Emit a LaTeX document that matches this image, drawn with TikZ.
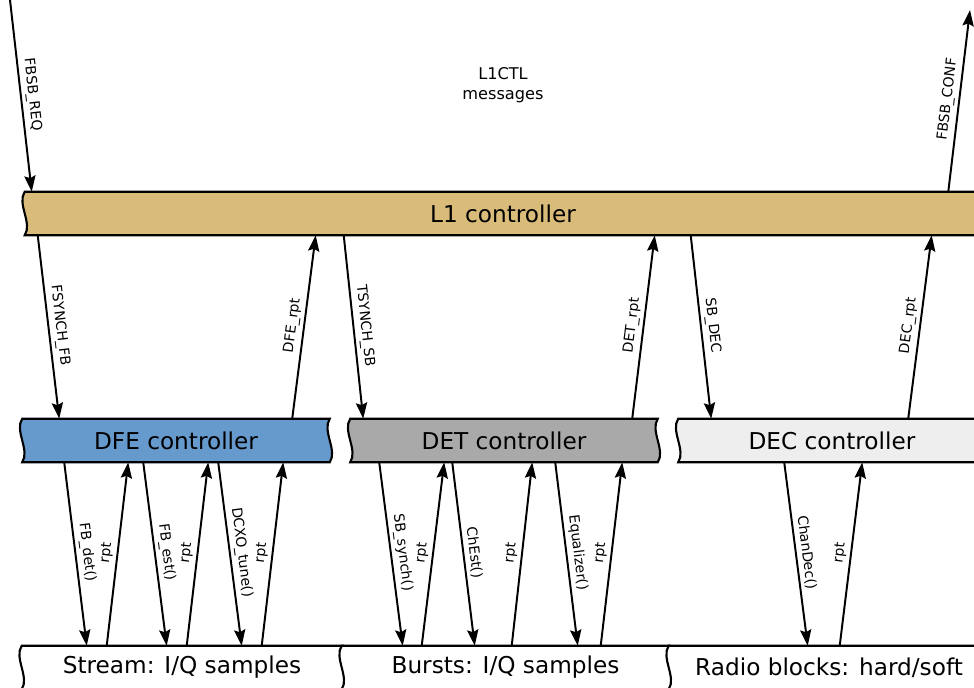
\documentclass[tikz,border=0pt]{standalone}
\usepackage{fontspec}
\setmainfont{DejaVu Sans}
\usepackage{tikz}
\usetikzlibrary{arrows.meta,positioning,backgrounds,calc}
\definecolor{ctlsand}{RGB}{217,187,122}
\definecolor{dfeblue}{RGB}{102,153,204}
\definecolor{detgrey}{RGB}{169,169,169}
\definecolor{decgrey}{RGB}{238,238,238}

\newcommand{\tornbox}[2]{%
\begin{scope}[on background layer]
\filldraw[fill=#2, draw=black, line width=1.5pt]
(#1.north west) .. controls +(-0.2,-0.3) and +(0.2,0.3) .. (#1.south west)
-- (#1.south east) .. controls +(0.2,0.3) and +(-0.2,-0.3) .. (#1.north east) -- cycle;
\end{scope}}

\begin{document}
\begin{tikzpicture}[
box/.style={rectangle, inner sep=0pt, minimum height=1.075cm, minimum width=7.675cm,
font=\fontsize{16.5}{20}\selectfont},
msg/.style={-{Stealth[length=4mm,width=2.8mm,inset=0.6mm]}, line width=1.4pt},
lbl/.style={midway, sloped, above, inner sep=2.5pt, font=\fontsize{10}{12}\selectfont}
]
\useasboundingbox (0,0) rectangle (24.35,17.2);

\node[box, minimum width=23.9cm] (l1) at (12.575,11.8625) {L1 controller};

\node[box] (dfe) at (4.4,6.1875) {DFE controller};
\node[box] (det) at (12.6,6.1875) {DET controller};
\node[box] (dec) at (20.8,6.1875) {DEC controller};

\node[box, minimum width=8cm] (stream) at (4.55,0.5125) {Stream: I/Q samples};
\node[box, minimum width=8.175cm] (bursts) at (12.6375,0.5125) {Bursts: I/Q samples};
\node[box, minimum width=8cm] (radio) at (20.725,0.5125) {Radio blocks: hard/soft};

\node[align=center, font=\fontsize{11.5}{14.2}\selectfont] (l1ctl) at (12.575,15.075)
{L1CTL\\messages};

\tornbox{l1}{ctlsand}
\tornbox{dfe}{dfeblue}
\tornbox{det}{detgrey}
\tornbox{dec}{decgrey}
\tornbox{stream}{white}
\tornbox{bursts}{white}
\tornbox{radio}{white}

\coordinate (req) at (0.25,17.2);
\coordinate (conf) at (24.25,16.95);

\draw[msg] (req) -- node[lbl]{FBSB\_REQ} ([xshift=0.175cm]l1.north west);
\draw[msg] ([xshift=-0.825cm]l1.north east) -- node[lbl]{FBSB\_CONF} (conf);

\draw[msg] ([xshift=0.325cm]l1.south west) -- node[lbl]{FSYNCH\_FB} ([xshift=0.925cm]dfe.north west);
\draw[msg] ([xshift=6.75cm]dfe.north west) -- node[lbl]{DFE\_rpt} ([xshift=7.275cm]l1.south west);
\draw[msg] ([xshift=7.975cm]l1.south west) -- node[lbl]{TSYNCH\_SB} ([xshift=0.325cm]det.north west);
\draw[msg] ([xshift=7.05cm]det.north west) -- node[lbl]{DET\_rpt} ([xshift=15.75cm]l1.south west);
\draw[msg] ([xshift=16.65cm]l1.south west) -- node[lbl]{SB\_DEC} ([xshift=0.825cm]dec.north west);
\draw[msg] ([xshift=5.75cm]dec.north west) -- node[lbl]{DEC\_rpt} ([xshift=22.675cm]l1.south west);

\draw[msg] ([xshift=1.05cm]dfe.south west) -- node[lbl]{FB\_det()} ([xshift=1.625cm]stream.north west);
\draw[msg] ([xshift=2.125cm]stream.north west) -- node[lbl]{rpt} ([xshift=2.65cm]dfe.south west);
\draw[msg] ([xshift=3.025cm]dfe.south west) -- node[lbl]{FB\_est()} ([xshift=3.625cm]stream.north west);
\draw[msg] ([xshift=4.125cm]stream.north west) -- node[lbl]{rpt} ([xshift=4.65cm]dfe.south west);
\draw[msg] ([xshift=4.9cm]dfe.south west) -- node[lbl]{DCXO\_tune()} ([xshift=5.5cm]stream.north west);
\draw[msg] ([xshift=6cm]stream.north west) -- node[lbl]{rpt} ([xshift=6.525cm]dfe.south west);

\draw[msg] ([xshift=0.725cm]det.south west) -- node[lbl]{SB\_synch()} ([xshift=1.525cm]bursts.north west);
\draw[msg] ([xshift=2cm]bursts.north west) -- node[lbl]{rpt} ([xshift=2.35cm]det.south west);
\draw[msg] ([xshift=2.55cm]det.south west) -- node[lbl]{ChEst()} ([xshift=3.325cm]bursts.north west);
\draw[msg] ([xshift=4.25cm]bursts.north west) -- node[lbl]{rpt} ([xshift=4.55cm]det.south west);
\draw[msg] ([xshift=5.125cm]det.south west) -- node[lbl]{Equalizer()} ([xshift=5.9cm]bursts.north west);
\draw[msg] ([xshift=6.475cm]bursts.north west) -- node[lbl]{rpt} ([xshift=6.8cm]det.south west);

\draw[msg] ([xshift=2.65cm]dec.south west) -- node[lbl]{ChanDec()} ([xshift=3.475cm]radio.north west);
\draw[msg] ([xshift=4.275cm]radio.north west) -- node[lbl]{rpt} ([xshift=4.6cm]dec.south west);

\end{tikzpicture}
\end{document}
